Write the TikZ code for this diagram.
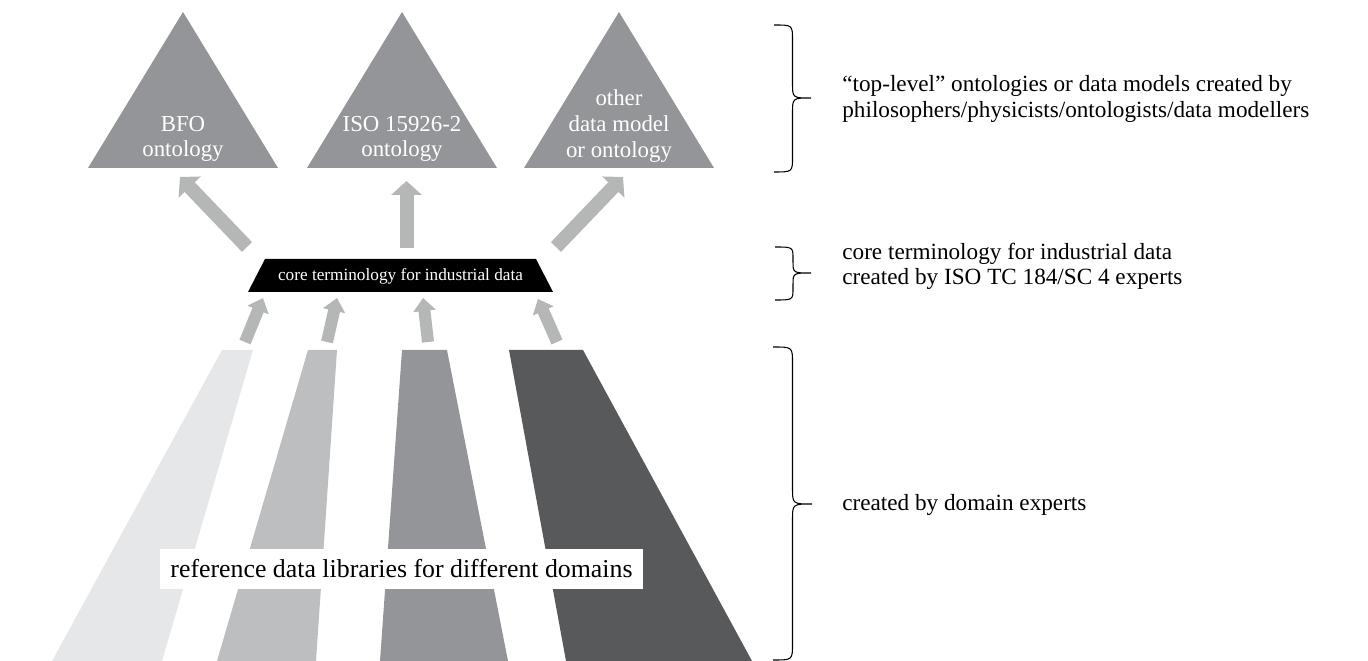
\documentclass[tikz,border=0pt]{standalone}
\usepackage{fontspec}
\setmainfont{Liberation Serif}
\usepackage{tikz}
\usetikzlibrary{arrows.meta,positioning,calc}

\definecolor{stripeA}{HTML}{E6E7E8}
\definecolor{stripeB}{HTML}{BCBEC0}
\definecolor{stripeC}{HTML}{939598}
\definecolor{stripeD}{HTML}{58595B}
\definecolor{ontogray}{HTML}{939598}
\definecolor{arrowgray}{HTML}{B4B7B6}

\tikzset{
  onto/.style={fill=ontogray, draw=none},
  ontotext/.style={text=white, align=center, inner sep=0pt, font=\fontsize{13}{14.6}\selectfont},
  bigarrow/.style={draw=arrowgray, line width=0.28cm, -{Triangle[width=0.6cm,length=0.28cm]}},
  smallarrow/.style={draw=arrowgray, line width=0.24cm, -{Triangle[width=0.44cm,length=0.26cm]}},
  note/.style={anchor=west, align=left, inner sep=0pt, font=\fontsize{13.2}{14.3}\selectfont},
  bracepath/.style={draw=black, line width=0.6pt}
}

% right curly brace: x, top, middle, bottom, width, radius
\newcommand{\sidebrace}[6]{%
  \draw[bracepath] (#1,#2) .. controls ({#1+#5/2},#2) .. ({#1+#5/2},{#2+#6})
    -- ({#1+#5/2},{#3-#6}) .. controls ({#1+#5/2},#3) .. ({#1+#5},#3)
    .. controls ({#1+#5/2},#3) .. ({#1+#5/2},{#3+#6})
    -- ({#1+#5/2},{#4-#6}) .. controls ({#1+#5/2},#4) .. (#1,#4);}

\begin{document}
\begin{tikzpicture}[x=0.02cm,y=-0.02cm]
\useasboundingbox (0,0) rectangle (1368,661);

% top-level ontologies
\fill[onto] (183,12) -- (278,168) -- (88,168) -- cycle;
\fill[onto] (402,12) -- (497,168) -- (307,168) -- cycle;
\fill[onto] (619,12) -- (714,168) -- (524,168) -- cycle;
\node[ontotext] (bfo) at (183,139) {BFO\\ontology};
\node[ontotext] (iso) at (402,139) {ISO 15926-2\\ontology};
\node[ontotext] (other) at (619,126) {other\\data model\\or ontology};

% core terminology
\fill[black] (265,259) -- (536,259) -- (553,292) -- (248,292) -- cycle;
\node[text=white, inner sep=0pt, font=\fontsize{9.8}{11}\selectfont] (core) at (400.5,276) {core terminology for industrial data};

% reference data libraries
\fill[stripeA] (222,350) -- (253,350) -- (162,661) -- (52,661) -- cycle;
\fill[stripeB] (308,350) -- (337,350) -- (316,661) -- (217,661) -- cycle;
\fill[stripeC] (402,350) -- (447,350) -- (508,661) -- (380,661) -- cycle;
\fill[stripeD] (509,350) -- (583,350) -- (752,661) -- (566,661) -- cycle;
\node[fill=white, minimum width=9.66cm, minimum height=0.8cm, inner sep=0pt,
  font=\fontsize{14.7}{16}\selectfont] (rdl) at (401.5,569) {reference data libraries for different domains};

% arrows core -> ontologies
\coordinate (ua1) at (247,247);  \coordinate (uh1) at (180,177);
\coordinate (ua2) at (406.5,248); \coordinate (uh2) at (406.5,181);
\coordinate (ua3) at (556,247);  \coordinate (uh3) at (623,177);
\draw[bigarrow] (ua1) -- (uh1);
\draw[bigarrow] (ua2) -- (uh2);
\draw[bigarrow] (ua3) -- (uh3);

% arrows libraries -> core
\coordinate (la1) at (245,342); \coordinate (lh1) at (263,298);
\coordinate (la2) at (327,342); \coordinate (lh2) at (337,298);
\coordinate (la3) at (428,342); \coordinate (lh3) at (423,298);
\coordinate (la4) at (557,342); \coordinate (lh4) at (538,299);
\draw[smallarrow] (la1) -- (lh1);
\draw[smallarrow] (la2) -- (lh2);
\draw[smallarrow] (la3) -- (lh3);
\draw[smallarrow] (la4) -- (lh4);

% braces and notes
\sidebrace{774}{25}{98}{172}{37}{15}
\sidebrace{775}{247}{273}{300}{36}{12}
\sidebrace{773}{347}{504}{660}{39}{16}
\node[note] (toplevel) at (842,99) {“top-level” ontologies or data models created by\\philosophers/physicists/ontologists/data modellers};
\node[note] (corenote) at (842,266) {core terminology for industrial data\\created by ISO TC 184/SC 4 experts};
\node[note] (domain) at (842,505) {created by domain experts};
\end{tikzpicture}
\end{document}
